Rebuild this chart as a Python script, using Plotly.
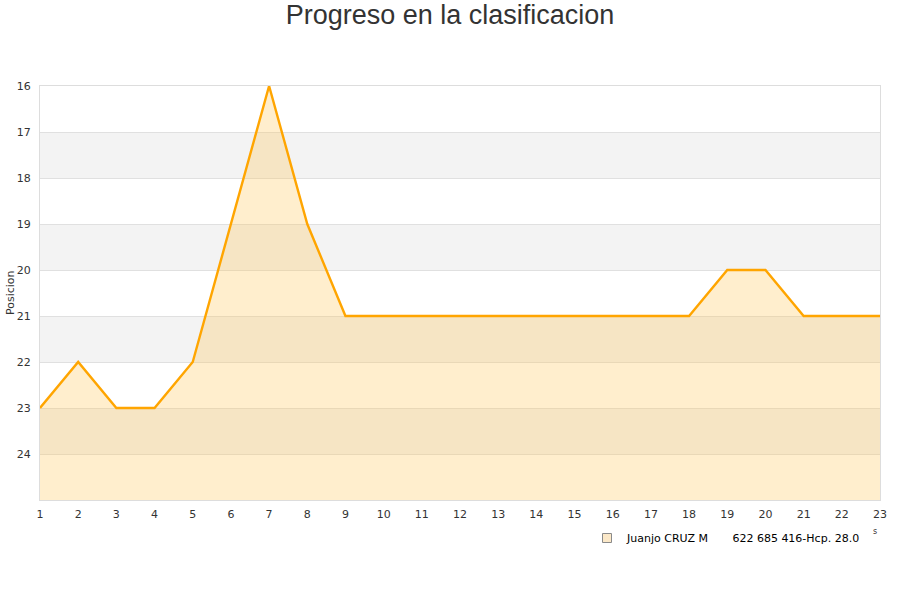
import plotly.graph_objects as go

jornadas = list(range(1, 24))
posicion = [23, 22, 23, 23, 22, 19, 16, 19, 21, 21, 21, 21, 21, 21, 21, 21, 21, 21, 20, 20, 21, 21, 21]
y_ticks = [16, 17, 18, 19, 20, 21, 22, 23, 24]
bottom = 25
player = "Juanjo CRUZ M" + "\u00a0" * 7 + "622 685 416-Hcp. 28.0"

fig = go.Figure()
fig.add_trace(go.Scatter(x=jornadas, y=[bottom] * len(jornadas), mode="lines",
                         line=dict(width=0), showlegend=False, hoverinfo="skip"))
fig.add_trace(go.Scatter(x=jornadas, y=posicion, mode="lines", name=player, showlegend=False,
                         fill="tonexty", fillcolor="rgba(255,200,90,0.3)",
                         line=dict(color="#ffa500", width=2.4)))
fig.add_trace(go.Scatter(x=[None], y=[None], mode="markers", name=player,
                         marker=dict(symbol="square", size=9, color="#fbe8c8",
                                     line=dict(color="#8a8a8a", width=1))))

shapes = []
for b in [17, 19, 21, 23]:
    shapes.append(dict(type="rect", xref="paper", yref="y", x0=0, x1=1, y0=b, y1=b + 1,
                       fillcolor="#f3f3f3", line=dict(width=0), layer="below"))

L, T, R, B = 40, 86, 20, 100
PW = 900 - L - R
PH = 600 - T - B

fig.update_layout(
    width=900, height=600,
    paper_bgcolor="white", plot_bgcolor="white",
    margin=dict(l=L, r=R, t=T, b=B, autoexpand=False),
    title=dict(text="Progreso en la clasificacion", x=0.5, xanchor="center",
               yref="container", y=1 - 15 / 600, yanchor="middle",
               font=dict(family="Liberation Sans", size=27, color="#333333")),
    shapes=shapes,
    showlegend=True,
    legend=dict(orientation="h", x=(587 - L) / PW, y=1 - 538 / 600, xref="paper", yref="container",
                xanchor="left", yanchor="middle",
                font=dict(family="DejaVu Sans", size=11, color="#000000")),
    annotations=[
        dict(text="Posicion", xref="paper", yref="paper", x=(10 - L) / PW, y=0.5,
             textangle=-90, showarrow=False, xanchor="center", yanchor="middle",
             font=dict(family="DejaVu Sans", size=11, color="#333333")),
        dict(text="s", xref="paper", yref="paper", x=(875 - L) / PW, y=(600 - B - 531) / PH,
             showarrow=False, xanchor="center", yanchor="middle",
             font=dict(family="DejaVu Sans", size=8, color="#333333")),
    ],
    font=dict(family="DejaVu Sans", size=11, color="#333333"),
)
fig.update_xaxes(range=[1, 23], tickmode="array", tickvals=jornadas, showgrid=False,
                 zeroline=False, showline=True, linecolor="#dddddd", mirror=True,
                 automargin=False, ticklabelstandoff=4,
                 tickfont=dict(size=11, color="#333333"), ticks="")
fig.update_yaxes(range=[bottom, 16], tickmode="array", tickvals=y_ticks, showgrid=True,
                 gridcolor="#e0e0e0", zeroline=False, showline=True, linecolor="#dddddd",
                 mirror=True, ticklabelstandoff=6, automargin=False,
                 tickfont=dict(size=11, color="#333333"), ticks="")

fig.write_html("out.html", config={"displayModeBar": False},
               post_script="document.body.style.margin='0';")
